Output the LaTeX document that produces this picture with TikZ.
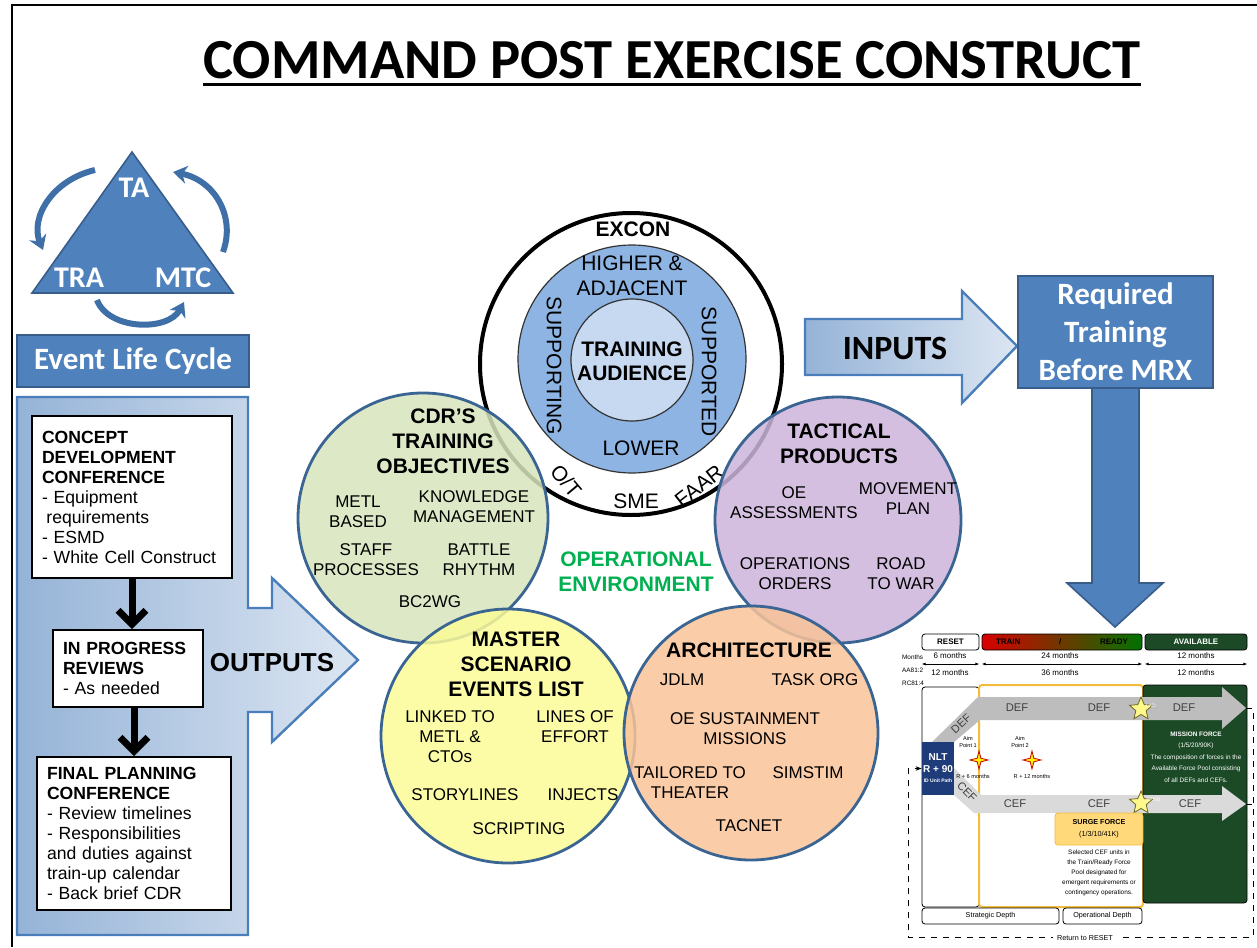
\documentclass[tikz,border=0pt]{standalone}
\usepackage{fontspec}
\setmainfont{Liberation Sans}
\newfontfamily\calibri{Carlito}
\usepackage{xcolor}
\usetikzlibrary{positioning,shapes.geometric,arrows.meta}

\definecolor{ppt-blue}{HTML}{4F81BD}
\definecolor{ppt-edge}{HTML}{385D8A}
\definecolor{ring-blue}{HTML}{8DB4E2}
\definecolor{core-blue}{HTML}{C6D9F1}
\definecolor{venn-edge}{HTML}{3A6593}
\definecolor{cdr-green}{HTML}{D7E4BD}
\definecolor{tac-purple}{HTML}{CCB4DA}
\definecolor{msel-yellow}{HTML}{FBFB98}
\definecolor{arch-orange}{HTML}{F9C398}
\definecolor{oe-green}{HTML}{00B050}
\definecolor{arrow-dark}{HTML}{95B3D7}
\definecolor{arrow-light}{HTML}{DCE6F2}
\definecolor{arrow-edge}{HTML}{4A7EBB}
\definecolor{cycle-blue}{HTML}{3E6FA6}
\definecolor{chart-green}{HTML}{1C4A27}
\definecolor{chart-gold}{HTML}{F3BC3C}
\definecolor{chart-navy}{HTML}{1F3C7A}
\definecolor{surge-yellow}{HTML}{FFD97A}
\definecolor{def-gray}{HTML}{BDBDBD}
\definecolor{cef-gray}{HTML}{DADADA}

\begin{document}
\begin{tikzpicture}
[
x=0.5pt, y=-0.5pt,
venn-a/.style={circle, draw=venn-edge, line width=1.4pt, fill opacity=0.85, inner sep=0pt},
head-a/.style={font=\fontsize{10.5}{12.5}\selectfont\bfseries, align=center, inner sep=0pt},
text-a/.style={font=\fontsize{8.5}{10}\selectfont, align=center, inner sep=0pt},
ring-a/.style={font=\fontsize{10.5}{12.5}\selectfont, align=center, inner sep=0pt},
cal-a/.style={font=\calibri\fontsize{15.5}{19}\selectfont\bfseries, text=white, align=center, inner sep=0pt},
step-box/.style={draw, fill=white, line width=0.8pt, text width=#1, align=left, inner xsep=5pt, font=\fontsize{8.8}{10}\selectfont},
flow-arr/.style={line width=3.5pt, -{Straight Barb[length=7pt, width=14pt]}},
tiny-a/.style={font=\fontsize{3.3}{5}\selectfont, align=center, inner sep=0pt},
band-a/.style={font=\fontsize{5.6}{6}\selectfont, text=black!75, inner sep=0pt},
chart-box/.style={draw, rounded corners=1.5pt, line width=0.4pt, inner sep=0pt},
month-arr/.style={line width=0.4pt, {Latex[length=2pt]}-{Latex[length=2pt]}},
ret-line/.style={line width=0.5pt, dashed, -{Stealth[length=3pt]}}
]
\useasboundingbox (0,0) rectangle (1257,947);
\draw [line width=1pt] (12,947) -- (12,5) -- (1257,5);

% title
\node (title) [font=\calibri\fontsize{28.3}{30}\selectfont\bfseries, inner sep=0pt] at (672,60) {COMMAND POST EXERCISE CONSTRUCT};
\draw [line width=1.5pt] ([yshift=-2.5pt]title.south west) -- ([yshift=-2.5pt]title.south east);

% event life cycle triangle
\draw [fill=ppt-blue, draw=ppt-edge, line width=0.8pt] (132,152) -- (233,293) -- (32,293) -- cycle;
\node (ta-lb)  [cal-a, font=\calibri\fontsize{15}{18}\selectfont\bfseries] at (134,188) {TA};
\node (tra-lb) [cal-a, font=\calibri\fontsize{15}{18}\selectfont\bfseries] at (79,278)  {TRA};
\node (mtc-lb) [cal-a, font=\calibri\fontsize{15}{18}\selectfont\bfseries] at (183,278) {MTC};
\draw [cycle-blue, line width=3pt, -{Stealth[length=7pt, width=9pt]}] (95,170) .. controls (52,180) and (30,218) .. (43,250);
\draw [cycle-blue, line width=3pt, -{Stealth[length=7pt, width=9pt]}] (223,252) .. controls (236,216) and (214,180) .. (173,172);
\draw [cycle-blue, line width=3pt, -{Stealth[length=7pt, width=9pt]}] (97,300) .. controls (108,330) and (168,332) .. (184,302);
\node (elc-box) [cal-a, fill=ppt-blue, draw=ppt-edge, line width=0.8pt, minimum width=116pt, minimum height=26pt] at (133,361) {Event Life Cycle};

% outputs panel
\draw [draw=arrow-edge, line width=1.2pt, left color=arrow-dark, right color=arrow-light]
  (17,397) -- (248,397) -- (248,608) -- (272,608) -- (272,578) -- (358,660) -- (272,742) -- (272,712) -- (248,712) -- (248,935) -- (17,935) -- cycle;
\node (outputs-lb) [font=\fontsize{13}{15}\selectfont\bfseries, inner sep=0pt] at (272,663) {OUTPUTS};

\node (concept-box) [step-box=90pt, minimum height=81pt] at (132,497)
  {\textbf{CONCEPT}\\\textbf{DEVELOPMENT}\\\textbf{CONFERENCE}\\- Equipment\\\hspace{0.25em}requirements\\- ESMD\\- White Cell Construct};
\node (review-box)  [step-box=65pt, minimum height=38.5pt] at (128,668.5)
  {\textbf{IN PROGRESS}\\\textbf{REVIEWS}\\- As needed};
\node (final-box)   [step-box=87pt, minimum height=76.5pt] at (134,833.5)
  {\textbf{FINAL PLANNING}\\\textbf{CONFERENCE}\\- Review timelines\\- Responsibilities\\and duties against\\train-up calendar\\- Back brief CDR};
\draw [flow-arr] (concept-box.south) -- (concept-box.south |- review-box.north);
\draw [flow-arr] (final-box.north |- review-box.south) -- (final-box.north);

% excon rings
\node (excon-ring) [circle, draw, line width=2pt, fill=white, minimum size=151pt, inner sep=0pt] at (631,364) {};
\node (side-ring)  [circle, draw=black!80, line width=0.6pt, fill=ring-blue, minimum size=114pt, inner sep=0pt] at (632,359) {};
\node (core-ring)  [circle, draw=black!80, line width=0.6pt, fill=core-blue, minimum size=61pt, inner sep=0pt] at (632,360) {};
\node (excon-lb)      [head-a] at (633,229) {EXCON};
\node (higher-lb)     [ring-a] at (632,276) {HIGHER \&\\ADJACENT};
\node (supporting-lb) [ring-a, rotate=-90] at (554,366) {SUPPORTING};
\node (supported-lb)  [ring-a, rotate=-90] at (709,372) {SUPPORTED};
\node (audience-lb)   [head-a, font=\fontsize{10.5}{12}\selectfont\bfseries] at (632,361) {TRAINING\\AUDIENCE};
\node (lower-lb)      [ring-a] at (641,448) {LOWER};
\node (ot-lb)         [ring-a, rotate=-50] at (566,481) {O/T};
\node (sme-lb)        [ring-a] at (636,501) {SME};
\node (faar-lb)       [ring-a, rotate=38] at (699,486) {FAAR};

% venn circles
\node (cdr-circle)  [venn-a, fill=cdr-green,   minimum size=125pt] at (423,518) {};
\node (tac-circle)  [venn-a, fill=tac-purple,  minimum size=123pt] at (838,520) {};
\node (msel-circle) [venn-a, fill=msel-yellow, minimum size=127pt] at (508,736) {};
\node (arch-circle) [venn-a, fill=arch-orange, minimum size=127pt] at (751,733) {};

\node (cdr-title) [head-a] at (443,441) {CDR'S\\TRAINING\\OBJECTIVES};
\node (metl-lb)   [text-a] at (358,512) {METL\\BASED};
\node (km-lb)     [text-a] at (474,507) {KNOWLEDGE\\MANAGEMENT};
\node (staff-lb)  [text-a] at (366,560) {STAFF\\PROCESSES};
\node (battle-lb) [text-a] at (479,560) {BATTLE\\RHYTHM};
\node (bc2wg-lb)  [text-a] at (430,602) {BC2WG};

\node (tac-title) [head-a] at (839,444) {TACTICAL\\PRODUCTS};
\node (oea-lb)    [text-a] at (794,503) {OE\\ASSESSMENTS};
\node (move-lb)   [text-a] at (908,499) {MOVEMENT\\PLAN};
\node (opord-lb)  [text-a] at (795,574) {OPERATIONS\\ORDERS};
\node (road-lb)   [text-a] at (901,574) {ROAD\\TO WAR};

\node (msel-title)  [head-a] at (516,664) {MASTER\\SCENARIO\\EVENTS LIST};
\node (linked-lb)   [text-a] at (450,737) {LINKED TO\\METL \&\\CTOs};
\node (loe-lb)      [text-a] at (575,727) {LINES OF\\EFFORT};
\node (story-lb)    [text-a] at (465,795) {STORYLINES};
\node (injects-lb)  [text-a] at (583,795) {INJECTS};
\node (script-lb)   [text-a] at (519,829) {SCRIPTING};

\node (arch-title)  [head-a] at (749,650) {ARCHITECTURE};
\node (jdlm-lb)     [text-a] at (682,680) {JDLM};
\node (taskorg-lb)  [text-a] at (815,680) {TASK ORG};
\node (sust-lb)     [text-a] at (745,729) {OE SUSTAINMENT\\MISSIONS};
\node (tailor-lb)   [text-a] at (690,783) {TAILORED TO\\THEATER};
\node (simstim-lb)  [text-a] at (808,773) {SIMSTIM};
\node (tacnet-lb)   [text-a] at (749,826) {TACNET};

\node (oe-lb) [head-a, text=oe-green] at (636,572) {OPERATIONAL\\ENVIRONMENT};

% inputs and required training
\draw [draw=arrow-edge, line width=1.2pt, left color=arrow-dark, right color=arrow-light]
  (805,319) -- (962,319) -- (962,291) -- (1017,346) -- (962,403) -- (962,375) -- (805,375) -- cycle;
\node (inputs-lb) [font=\calibri\fontsize{17}{19}\selectfont\bfseries, inner sep=0pt] at (895,348) {INPUTS};
\draw [fill=ppt-blue, draw=ppt-edge, line width=0.8pt]
  (1092,380) -- (1092,583) -- (1067,583) -- (1115,627) -- (1163,583) -- (1139,583) -- (1139,380);
\node (req-box) [cal-a, fill=ppt-blue, draw=ppt-edge, line width=0.8pt, minimum width=97.5pt, minimum height=56pt] at (1115.5,332) {Required\\Training\\Before MRX};

% force generation chart
\node (reset-hd) [chart-box, fill=white, minimum width=28.5pt, minimum height=8pt, font=\fontsize{4}{4}\selectfont\bfseries] at (950.5,642) {RESET};
\node (train-hd) [chart-box, left color=red!85!black, middle color=yellow!85!orange, right color=green!45!black, minimum width=80pt, minimum height=8pt, font=\fontsize{4}{4}\selectfont\bfseries, text=black] at (1062,642) {\makebox[66pt]{TRAIN\hfill/\hfill READY}};
\node (avail-hd) [chart-box, fill=chart-green, text=white, minimum width=51pt, minimum height=8pt, font=\fontsize{4}{4}\selectfont\bfseries] at (1196,642) {AVAILABLE};

\node (months-lb) [tiny-a, align=left, font=\fontsize{3.2}{6.5}\selectfont] at (913,670) {Months\\AA81:2\\RC81:4};
\draw [month-arr] ([yshift=-11pt]reset-hd.west) -- ([yshift=-11pt]reset-hd.east);
\draw [month-arr] ([yshift=-11pt]train-hd.west) -- ([yshift=-11pt]train-hd.east);
\draw [month-arr] ([yshift=-11pt]avail-hd.west) -- ([yshift=-11pt]avail-hd.east);
\node (reset-aa) [tiny-a, font=\fontsize{4}{5}\selectfont] at (950,656)  {6 months};
\node (reset-rc) [tiny-a, font=\fontsize{4}{5}\selectfont] at (950,673)  {12 months};
\node (train-aa) [tiny-a, font=\fontsize{4}{5}\selectfont] at (1060,656) {24 months};
\node (train-rc) [tiny-a, font=\fontsize{4}{5}\selectfont] at (1060,673) {36 months};
\node (avail-aa) [tiny-a, font=\fontsize{4}{5}\selectfont] at (1196,656) {12 months};
\node (avail-rc) [tiny-a, font=\fontsize{4}{5}\selectfont] at (1196,673) {12 months};

\node (strat-col)   [chart-box, fill=white, minimum width=28.5pt, minimum height=110pt] at (950.5,797) {};
\node (ops-col)     [chart-box, draw=chart-gold, line width=1pt, minimum width=82pt, minimum height=111pt] at (1061,796) {};
\node (mission-box) [chart-box, fill=chart-green, minimum width=52pt, minimum height=109pt] at (1195,794) {};

\fill [def-gray] (932,742) -- (978,697) -- (1222,697) -- (1222,687) -- (1246,708) -- (1222,729) -- (1222,720) -- (980,720) -- (954,742) -- cycle;
\fill [cef-gray] (954,768) -- (981,795) -- (1222,795) -- (1222,786) -- (1246,804) -- (1222,821) -- (1222,813) -- (974,813) -- (954,795) -- cycle;
\node (def-diag) [band-a, rotate=43]  at (961,724) {DEF};
\node (def-mid)  [band-a] at (1017,708) {DEF};
\node (def-mid2) [band-a] at (1099,708) {DEF};
\node (def-end)  [band-a] at (1184,708) {DEF};
\node (cef-diag) [band-a, rotate=-45] at (967,792) {CEF};
\node (cef-mid)  [band-a] at (1015,804) {CEF};
\node (cef-mid2) [band-a] at (1099,804) {CEF};
\node (cef-end)  [band-a] at (1190,804) {CEF};

\node (nlt-box) [fill=chart-navy, text=white, minimum width=16pt, minimum height=26.5pt, inner sep=0pt, align=center, font=\fontsize{5}{6}\selectfont\bfseries] at (938,768.5) {NLT\\R + 90\\[-1pt]{\fontsize{2.5}{3}\selectfont ID Unit Path}};

\node (aim1-star) [star, star points=4, star point ratio=3.5, fill=yellow, draw=red!80!black, line width=0.4pt, minimum size=9pt, inner sep=0pt] at (979,760) {};
\node (aim2-star) [star, star points=4, star point ratio=3.5, fill=yellow, draw=red!80!black, line width=0.4pt, minimum size=9pt, inner sep=0pt] at (1032,760) {};
\node (aim1-lb)  [tiny-a, font=\fontsize{2.8}{3.4}\selectfont] at (968,742)  {Aim\\Point 1};
\node (aim2-lb)  [tiny-a, font=\fontsize{2.8}{3.4}\selectfont] at (1020,742) {Aim\\Point 2};
\node (aim1-due) [tiny-a, font=\fontsize{2.8}{3.4}\selectfont] at (973,776)  {R + 6 months};
\node (aim2-due) [tiny-a, font=\fontsize{2.8}{3.4}\selectfont] at (1032,776) {R + 12 months};

\node (lad-star)  [star, star points=5, star point ratio=2.2, fill=yellow!45, draw=olive!70!black, line width=0.4pt, minimum size=12pt, inner sep=0pt] at (1141,709) {};
\node (apod-star) [star, star points=5, star point ratio=2.2, fill=yellow!45, draw=olive!70!black, line width=0.4pt, minimum size=12pt, inner sep=0pt] at (1141,803) {};
\node (lad-lb)  [tiny-a, font=\fontsize{2.5}{3}\selectfont, text=white, above right = -2pt and 0pt of lad-star]  {LAD};
\node (apod-lb) [tiny-a, font=\fontsize{2.5}{3}\selectfont, text=white, above right = -2pt and 0pt of apod-star] {APOD};

\node (mission-lb) [tiny-a, text=white, font=\fontsize{3.2}{5.8}\selectfont] at (1196,757) {\textbf{MISSION FORCE}\\(1/5/20/90K)\\The composition of forces in the\\Available Force Pool consisting\\of all DEFs and CEFs.};

\node (surge-box)  [chart-box, fill=surge-yellow, draw=chart-gold, minimum width=44pt, minimum height=16pt, tiny-a, font=\fontsize{3.6}{6}\selectfont] at (1099,829) {\textbf{SURGE FORCE}\\(1/3/10/41K)};
\node (surge-note) [tiny-a, font=\fontsize{3.2}{5}\selectfont, below = 2pt of surge-box] {Selected CEF units in\\the Train/Ready Force\\Pool designated for\\emergent requirements or\\contingency operations.};

\node (strat-depth) [chart-box, fill=white, minimum width=68.5pt, minimum height=8pt, font=\fontsize{3.6}{4}\selectfont] at (990.5,916)  {Strategic Depth};
\node (ops-depth)   [chart-box, fill=white, minimum width=39.5pt, minimum height=8pt, font=\fontsize{3.6}{4}\selectfont] at (1102.5,916) {Operational Depth};

\coordinate (def-tip) at (1246,708);
\coordinate (cef-tip) at (1246,804);
\coordinate (ret-top) at (1253,708);
\coordinate (ret-low) at (908,937);
\draw [ret-line] (def-tip) -- (ret-top) -- (ret-top |- ret-low) -- (ret-low) -- (ret-low |- nlt-box.west) -- (nlt-box.west);
\draw [line width=0.5pt, dashed] (cef-tip) -- (cef-tip -| ret-top);
\node (return-lb) [tiny-a, fill=white, inner xsep=2pt, font=\fontsize{3.6}{4}\selectfont] at (1085,938) {Return to RESET};
\end{tikzpicture}
\end{document}
